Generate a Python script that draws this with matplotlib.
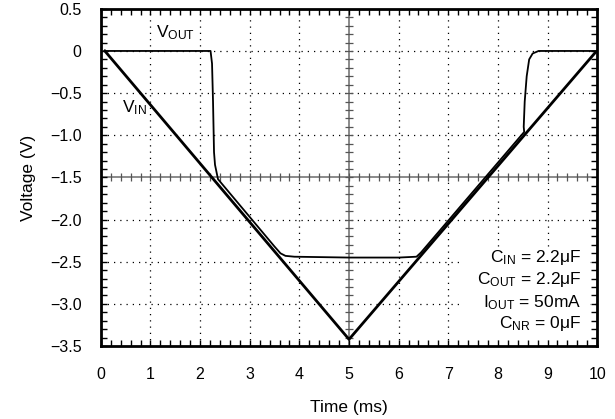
import matplotlib
matplotlib.use('Agg')
import matplotlib.pyplot as plt
from matplotlib.patches import Rectangle
import numpy as np

plt.rcParams['font.family'] = ['Liberation Sans', 'DejaVu Sans']
plt.rcParams['mathtext.fontset'] = 'custom'
plt.rcParams['mathtext.rm'] = 'Liberation Sans'
plt.rcParams['mathtext.it'] = 'Liberation Sans'

# datos
vin_t = [0.08, 5.0, 9.96]
vin_v = [0.0, -3.42, -0.02]

vout_t = [0.08, 2.21, 2.24, 2.26, 2.28, 2.30, 2.36, 3.50, 3.62, 3.72, 3.90,
          5.0, 6.0, 6.36, 6.45, 8.53, 8.52, 8.54, 8.58, 8.63, 8.70, 8.82, 10.0]
vout_v = [0.0, 0.0, -0.15, -0.6, -1.2, -1.35, -1.52, -2.32, -2.40, -2.43, -2.44,
          -2.45, -2.45, -2.44, -2.39, -0.96, -0.9, -0.6, -0.3, -0.1, -0.03, 0.0, 0.0]

x_ticks = np.arange(0, 11, 1)
y_ticks = np.arange(-3.5, 0.51, 0.5)
y_labels = ['\u22123.5', '\u22123.0', '\u22122.5', '\u22122.0', '\u22121.5',
            '\u22121.0', '\u22120.5', '0', '0.5']

notes = [r'$\mathregular{C_{IN}}$ = 2.2μF',
         r'$\mathregular{C_{OUT}}$ = 2.2μF',
         r'$\mathregular{I_{OUT}}$ = 50mA',
         r'$\mathregular{C_{NR}}$ = 0μF']
notes_y = [-2.50, -2.76, -3.04, -3.29]

fig = plt.figure(figsize=(6.15, 4.19), dpi=100)
ax = fig.add_axes([0.164, 0.174, 0.807, 0.805])

# rejilla punteada y lineas centrales
for xv in x_ticks[1:-1]:
    if xv == 5:
        ax.axvline(xv, color='#777777', lw=1.2, zorder=1)
    else:
        ax.axvline(xv, color='black', lw=0.9, ls=(0, (1, 4)), zorder=1)
for yv in y_ticks[1:-1]:
    if abs(yv + 1.5) < 1e-6:
        ax.axhline(yv, color='#777777', lw=1.2, zorder=1)
    else:
        ax.axhline(yv, color='black', lw=0.9, ls=(0, (1, 4)), zorder=1)

# marcas sobre las lineas centrales
mx = np.arange(0.2, 10, 0.2)
ax.plot(mx, np.full_like(mx, -1.5), ls='none', marker='|', ms=6, mew=0.9,
        color='#555555', zorder=1)
my = np.arange(-3.4, 0.5, 0.1)
ax.plot(np.full_like(my, 5.0), my, ls='none', marker='_', ms=6, mew=0.9,
        color='#555555', zorder=1)

# fondo blanco detras del bloque de texto
ax.add_patch(Rectangle((7.3, -3.43), 2.55, 1.06, facecolor='white',
                       edgecolor='none', zorder=2))

ax.plot(vin_t, vin_v, color='black', lw=2.0, zorder=3)
ax.plot(vout_t, vout_v, color='black', lw=1.3, zorder=3)

ax.text(1.12, 0.167, r'$\mathregular{V_{OUT}}$', fontsize=12.5, va='baseline', ha='left')
ax.text(0.42, -0.726, r'$\mathregular{V_{IN}}$', fontsize=12.5, va='baseline', ha='left')
for n, yy in zip(notes, notes_y):
    ax.text(9.68, yy, n, fontsize=12.5, ha='right', va='baseline', zorder=4)

ax.set_xlim(0, 10)
ax.set_ylim(-3.5, 0.5)
ax.set_xticks(x_ticks)
ax.set_yticks(y_ticks)
ax.set_yticklabels(y_labels)
ax.set_xticks(np.arange(0, 10.01, 0.2), minor=True)
ax.set_yticks(np.arange(-3.5, 0.51, 0.1), minor=True)
ax.tick_params(which='both', direction='in', top=True, right=True, length=4,
               width=1, labelsize=11.5)
ax.tick_params(axis='x', pad=15)
ax.tick_params(axis='y', pad=14)
for s in ax.spines.values():
    s.set_linewidth(2)

ax.set_xlabel('Time (ms)', fontsize=12.5, labelpad=13)
ax.set_ylabel('Voltage (V)', fontsize=12.5, labelpad=10)

fig.savefig('out.png', dpi=100)
